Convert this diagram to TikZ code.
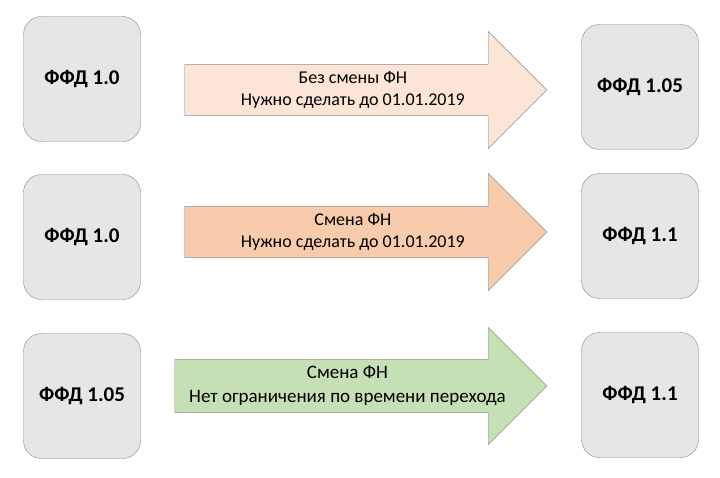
\documentclass[tikz,border=0pt]{standalone}
\usepackage{fontspec}
\setmainfont{Carlito}
\usepackage{tikz}
\usetikzlibrary{shapes.arrows}
\definecolor{boxfill}{HTML}{E7E6E6}
\definecolor{boxline}{HTML}{7F8A93}
\definecolor{peachlight}{HTML}{FBE5D6}
\definecolor{peach}{HTML}{F8CBAD}
\definecolor{greenlight}{HTML}{C5E0B4}
\definecolor{greenline}{HTML}{7E9A70}
\tikzstyle{ffd}=[draw=boxline,fill=boxfill,rounded corners=18pt,minimum width=117pt,minimum height=125pt,inner sep=0pt,font=\fontsize{21}{25}\selectfont\bfseries]
\tikzstyle{move}=[single arrow,draw=gray!90,single arrow head extend=29pt,minimum width=117pt,inner sep=4pt,anchor=tip,align=center,font=\fontsize{18}{22}\selectfont]

\begin{document}
\begin{tikzpicture}[x=1pt,y=1pt]
    \useasboundingbox (0,0) rectangle (720,477);
    % old formats
    \node [ffd] (old1) at (82,398) {ФФД 1.0};
    \node [ffd] (old2) at (82,240) {ФФД 1.0};
    \node [ffd] (old3) at (82,81) {ФФД 1.05};
    % new formats
    \node [ffd] (new1) at (640,390) {ФФД 1.05};
    \node [ffd] (new2) at (640,241) {ФФД 1.1};
    \node [ffd] (new3) at (640,82) {ФФД 1.1};
    % transitions
    \node [move,fill=peachlight,minimum height=362pt] (step1) at (547,387)
      {Без смены ФН\\Нужно сделать до 01.01.2019};
    \node [move,fill=peach,minimum height=362pt] (step2) at (547,245)
      {Смена ФН\\Нужно сделать до 01.01.2019};
    \node [move,fill=greenlight,draw=greenline,minimum height=372pt,
      font=\fontsize{19}{24}\selectfont] (step3) at (547,91)
      {Смена ФН\\Нет ограничения по времени перехода};
\end{tikzpicture}
\end{document}
